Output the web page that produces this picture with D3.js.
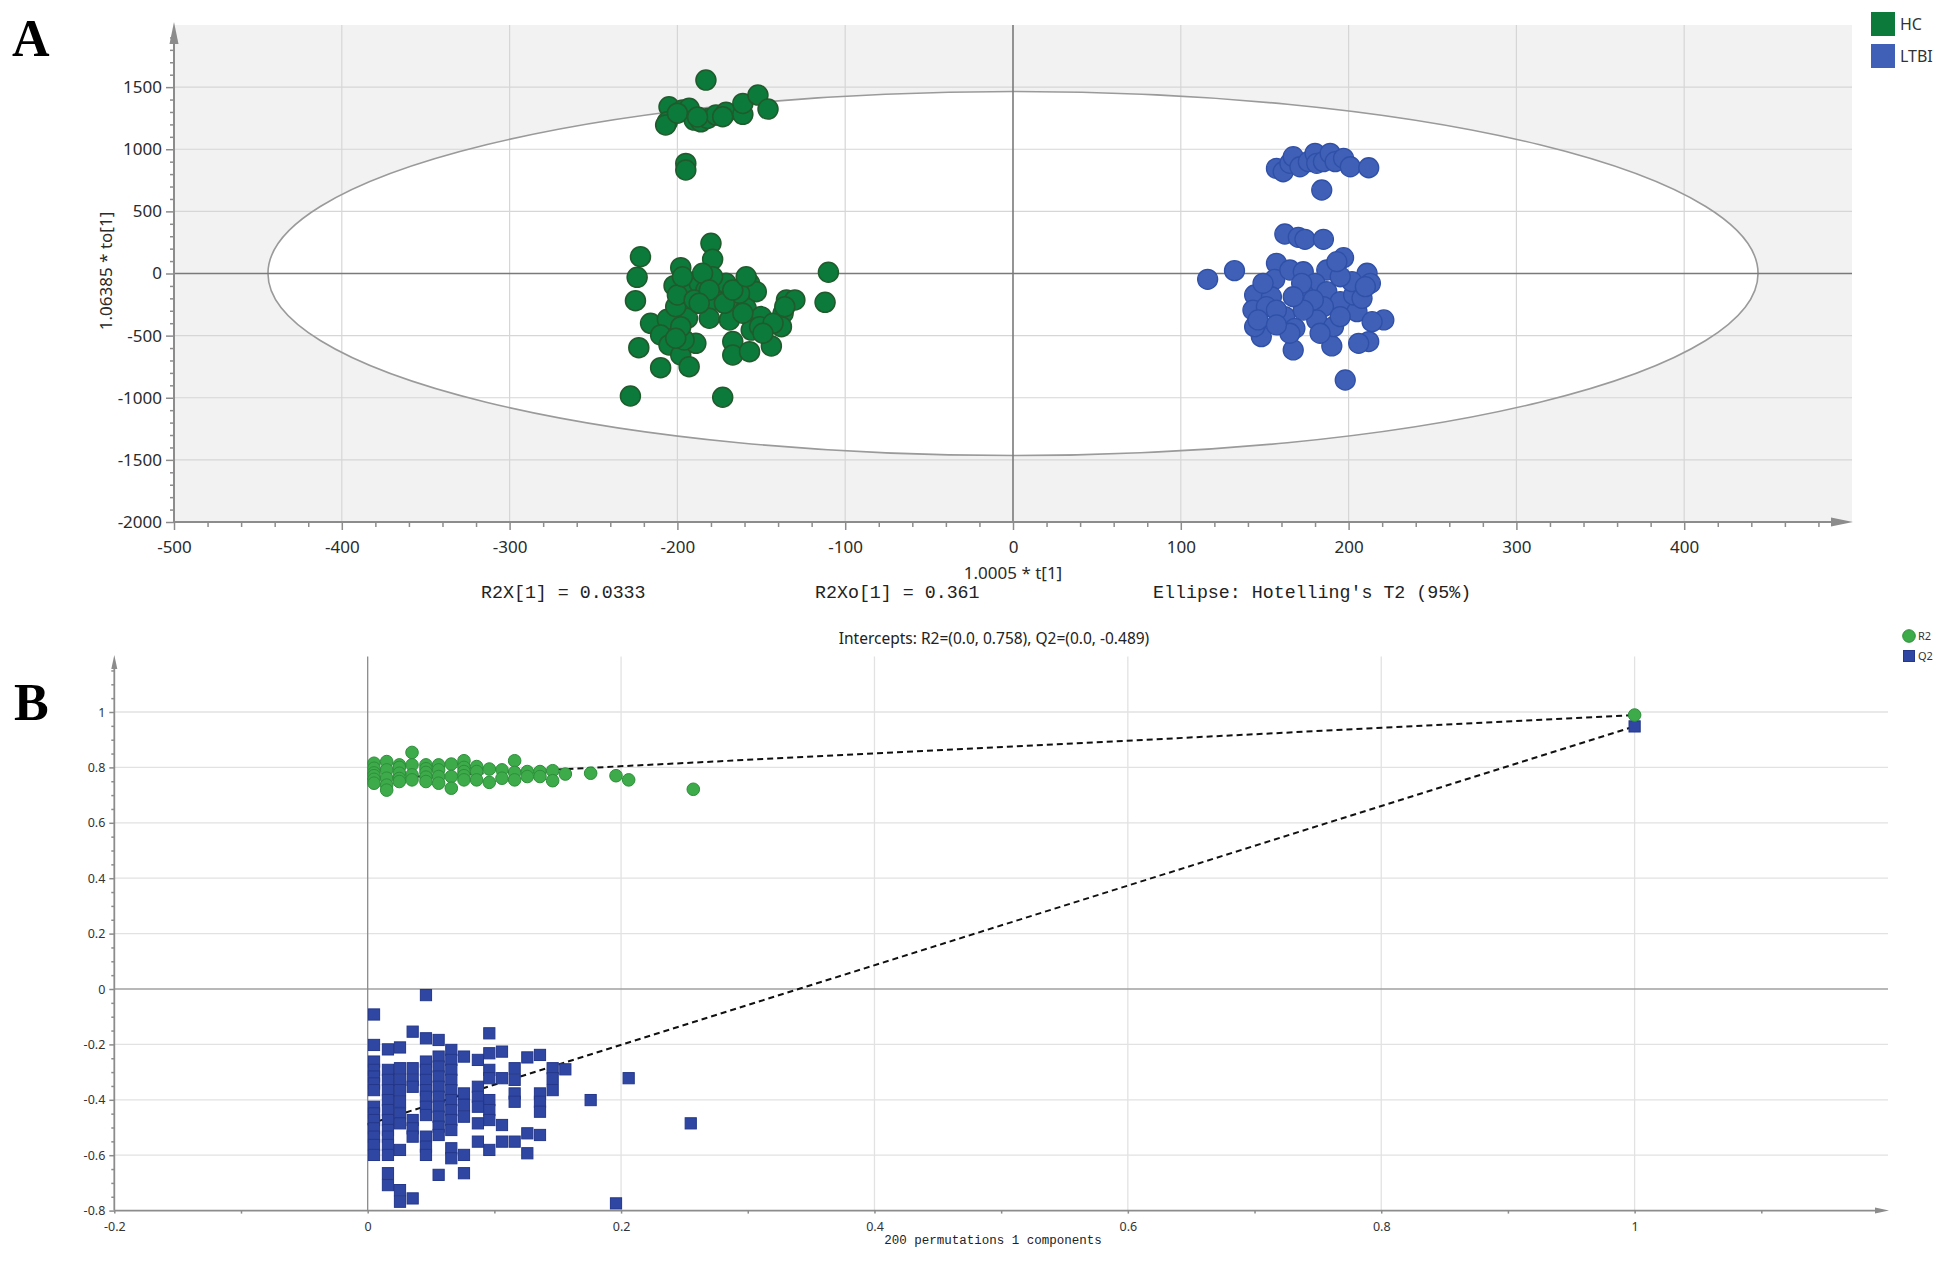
<!DOCTYPE html>
<html><head><meta charset="utf-8">
<script src="https://cdn.jsdelivr.net/npm/d3@7"></script>
<style>body{margin:0;background:#fff} svg{display:block}</style>
</head><body>
<svg id="c" width="1949" height="1262"></svg>
<script>
// ---------------- Panel A data (OPLS-DA scores) ----------------
const groupsA = ["HC", "LTBI"];
const hcX = [-183,-205,-206,-207,-197,-193,-190,-186,-182,-177,-171,-173,-161,-161,-152,-146,-195,-195,-200,-188,
  -222,-224,-225,-223,-228,-173,-180,-179,-110,-112,-198,-202,-195,-187,-183,-178,-171,-157,-153,-195,-194,-181,-169,-163,-159,-135,-130,-137,-138,-150,-155,-216,-206,-210,-205,-198,-210,-193,-189,-196,-167,-167,-157,-144,-156,-201,-200,-190,-179,-185,-197,-163,-172,-181,-167,-159,-161,-151,-143,-187,-198,-201,-149,-136];
const hcY = [1557,1342,1221,1195,1315,1329,1235,1221,1248,1275,1297,1262,1281,1369,1436,1323,886,833,1290,1260,
  135,-31,-219,-597,-986,-996,243,114,10,-232,47,-98,-133,-79,-133,-213,-79,-79,-146,-280,-360,-360,-374,-213,-280,-213,-213,-320,-428,-347,-441,-401,-369,-495,-575,-656,-758,-750,-562,-535,-548,-656,-629,-583,-455,-267,-173,-213,-26,2,-26,-159,-240,-133,-133,-26,-320,-428,-401,-240,-428,-521,-481,-267];
const ltbiX = [157,161,165,167,171,176,180,181,185,189,192,197,201,212,184,
  162,170,174,185,116,132,
  157,197,211,213,221,212,206,198,190,167,148,144,144,143,156,165,173,187,180,173,187,195,185,205,203,202,162,168,165,181,191,183,154,151,157,149,172,179,195,214,146,173,157,195,167,208,193,210];
const ltbiY = [846,819,887,940,859,900,967,887,900,967,900,927,859,851,672,
  318,291,275,275,-47,23,
  82,127,2,-79,-374,-548,-562,-857,-583,-615,-508,-428,-173,-294,-47,28,14,28,-79,-159,-146,-227,-267,-307,-173,-66,-347,-441,-481,-374,-428,-481,-187,-267,-294,-79,-79,-213,-347,-388,-374,-294,-414,-26,-187,-200,95,-106];
const xTicksA = [-500,-400,-300,-200,-100,0,100,200,300,400];
const yTicksA = [-2000,-1500,-1000,-500,0,500,1000,1500];
const ellipseA = {a: 444, b: 1465};

// ---------------- Panel B data (permutation test) ----------------
const r2X = [0.005,0.005,0.005,0.005,0.005,0.005, 0.015,0.015,0.015,0.015,0.015, 0.025,0.025,0.025,0.025,0.025, 0.035,0.035,0.035,0.035, 0.046,0.046,0.046,0.046,0.046, 0.056,0.056,0.056,0.056, 0.066,0.066,0.066, 0.076,0.076,0.076,0.076,0.076, 0.086,0.086,0.086, 0.096,0.096, 0.106,0.106, 0.116,0.116,0.116, 0.126,0.126, 0.136,0.136, 0.146,0.146, 0.156, 0.176, 0.196, 0.206, 0.257, 1];
const r2Y = [0.815,0.797,0.780,0.770,0.757,0.743, 0.821,0.791,0.761,0.736,0.718, 0.809,0.800,0.779,0.760,0.749, 0.854,0.809,0.773,0.755, 0.809,0.795,0.782,0.765,0.749, 0.809,0.791,0.767,0.743, 0.812,0.767,0.725, 0.824,0.800,0.785,0.770,0.755, 0.803,0.785,0.755, 0.794,0.746, 0.791,0.761, 0.824,0.782,0.755, 0.785,0.767, 0.785,0.767, 0.788,0.752, 0.776, 0.779, 0.770, 0.755, 0.721, 0.989];
const q2X = [0.005,0.005,0.005,0.005,0.005,0.005,0.005,0.005,0.005,0.005,0.005,0.005,0.005,0.005,
  0.016,0.016,0.016,0.016,0.016,0.016,0.016,0.016,0.016,0.016,0.016,0.016,0.016,
  0.0255,0.0255,0.0255,0.0255,0.0255,0.0255,0.0255,0.0255,0.0255,0.0255,
  0.0355,0.0355,0.0355,0.0355,0.0355,0.0355,0.0355,0.0355,
  0.046,0.046,0.046,0.046,0.046,0.046,0.046,0.046,0.046,0.046,0.046,0.046,
  0.056,0.056,0.056,0.056,0.056,0.056,0.056,0.056,0.056,0.056,0.056,
  0.066,0.066,0.066,0.066,0.066,0.066,0.066,0.066,0.066,0.066,0.066,
  0.076,0.076,0.076,0.076,0.076,0.076,
  0.087,0.087,0.087,0.087,0.087,0.087,
  0.096,0.096,0.096,0.096,0.096,0.096,0.096,0.096,
  0.106,0.106,0.106,0.106,
  0.116,0.116,0.116,0.116,0.116,
  0.126,0.126,0.126,
  0.136,0.136,0.136,0.136,0.136,
  0.146,0.146,0.146,
  0.156, 0.176, 0.196, 0.206, 0.255, 1];
const q2Y = [-0.092,-0.202,-0.262,-0.292,-0.316,-0.341,-0.365,-0.425,-0.449,-0.473,-0.503,-0.533,-0.563,-0.599,
  -0.218,-0.292,-0.328,-0.365,-0.401,-0.437,-0.473,-0.509,-0.533,-0.563,-0.599,-0.665,-0.708,
  -0.211,-0.286,-0.328,-0.365,-0.407,-0.449,-0.485,-0.581,-0.726,-0.768,
  -0.154,-0.286,-0.328,-0.353,-0.473,-0.503,-0.533,-0.756,
  -0.022,-0.178,-0.262,-0.292,-0.328,-0.365,-0.389,-0.425,-0.455,-0.533,-0.569,-0.599,
  -0.184,-0.244,-0.280,-0.316,-0.353,-0.389,-0.425,-0.461,-0.497,-0.527,-0.671,
  -0.220,-0.256,-0.292,-0.328,-0.365,-0.401,-0.437,-0.473,-0.509,-0.575,-0.611,
  -0.244,-0.377,-0.419,-0.461,-0.599,-0.665,
  -0.256,-0.353,-0.389,-0.425,-0.485,-0.551,
  -0.160,-0.232,-0.292,-0.322,-0.401,-0.437,-0.473,-0.581,
  -0.226,-0.322,-0.491,-0.551,
  -0.286,-0.328,-0.377,-0.407,-0.551,
  -0.247,-0.521,-0.593,
  -0.238,-0.377,-0.407,-0.443,-0.527,
  -0.286,-0.322,-0.365,
  -0.290, -0.401, -0.774, -0.322, -0.485, 0.948];
const r2Line = [[0, 0.758], [1, 0.989]];
const q2Line = [[0, -0.489], [1, 0.948]];
const xTicksB = [-0.2, 0, 0.2, 0.4, 0.6, 0.8, 1];
const yTicksB = [-0.8, -0.6, -0.4, -0.2, 0, 0.2, 0.4, 0.6, 0.8, 1];
const seriesB = ["R2", "Q2"];

// ---------------- drawing ----------------
const svg = d3.select("#c");
const SANS = "'Noto Sans','Open Sans',sans-serif";
const MONO = "'Liberation Mono','DejaVu Sans Mono',monospace";
const AX = "#8c8c8c";

function arrowUp(g, x, yTip, len, w) {
  g.append("path").attr("d", `M${x},${yTip} L${x - w / 2},${yTip + len} L${x + w / 2},${yTip + len} Z`).attr("fill", AX);
}
function arrowRight(g, xTip, y, len, w) {
  g.append("path").attr("d", `M${xTip},${y} L${xTip - len},${y - w / 2} L${xTip - len},${y + w / 2} Z`).attr("fill", AX);
}

// ===== Panel A =====
const xA = d3.scaleLinear().domain([-500, 500]).range([174, 1852]);
const yA = d3.scaleLinear().domain([-2000, 2000]).range([522, 25]);
const gA = svg.append("g");
gA.append("rect").attr("x", xA(-500)).attr("y", yA(2000))
  .attr("width", xA(500) - xA(-500)).attr("height", yA(-2000) - yA(2000)).attr("fill", "#f2f2f2");
const ecx = xA(0), ecy = yA(0), erx = xA(ellipseA.a) - xA(0), ery = yA(0) - yA(ellipseA.b);
gA.append("ellipse").attr("cx", ecx).attr("cy", ecy).attr("rx", erx).attr("ry", ery).attr("fill", "#fff");
// grid
gA.selectAll(".gx").data(xTicksA.filter(d => d !== 0 && d !== -500)).enter().append("line")
  .attr("x1", d => xA(d)).attr("x2", d => xA(d)).attr("y1", yA(2000)).attr("y2", yA(-2000))
  .attr("stroke", "#d6d6d6").attr("stroke-width", 1.2);
gA.selectAll(".gy").data(yTicksA.filter(d => d !== 0 && d !== -2000)).enter().append("line")
  .attr("x1", xA(-500)).attr("x2", xA(500)).attr("y1", d => yA(d)).attr("y2", d => yA(d))
  .attr("stroke", "#d6d6d6").attr("stroke-width", 1.2);
gA.append("ellipse").attr("cx", ecx).attr("cy", ecy).attr("rx", erx).attr("ry", ery)
  .attr("fill", "none").attr("stroke", "#9a9a9a").attr("stroke-width", 1.6);
// zero lines
gA.append("line").attr("x1", xA(-500)).attr("x2", xA(500)).attr("y1", yA(0)).attr("y2", yA(0)).attr("stroke", "#7a7a7a").attr("stroke-width", 1.6);
gA.append("line").attr("x1", xA(0)).attr("x2", xA(0)).attr("y1", yA(2000)).attr("y2", yA(-2000)).attr("stroke", "#7a7a7a").attr("stroke-width", 1.6);
// points
const colA = {HC: {f: "#0b7a3a", s: "#215a2c"}, LTBI: {f: "#3f60b6", s: "#3050a8"}};
gA.selectAll(".hc").data(hcX.map((x, i) => [x, hcY[i]])).enter().append("circle")
  .attr("cx", d => xA(d[0])).attr("cy", d => yA(d[1])).attr("r", 10)
  .attr("fill", colA.HC.f).attr("stroke", colA.HC.s).attr("stroke-width", 1.5);
gA.selectAll(".lt").data(ltbiX.map((x, i) => [x, ltbiY[i]])).enter().append("circle")
  .attr("cx", d => xA(d[0])).attr("cy", d => yA(d[1])).attr("r", 10)
  .attr("fill", colA.LTBI.f).attr("stroke", colA.LTBI.s).attr("stroke-width", 1.3);
// axes
const axA = gA.append("g");
axA.append("line").attr("x1", xA(-500)).attr("x2", xA(-500)).attr("y1", yA(-2000)).attr("y2", 30).attr("stroke", AX).attr("stroke-width", 2);
arrowUp(axA, xA(-500), 22, 22, 9);
axA.append("line").attr("x1", xA(-500)).attr("x2", 1840).attr("y1", yA(-2000)).attr("y2", yA(-2000)).attr("stroke", AX).attr("stroke-width", 2);
arrowRight(axA, 1853, yA(-2000), 22, 9);

function styleAxis(g, size, color) {
  g.select(".domain").remove();
  g.selectAll(".tick line").attr("stroke", AX).attr("stroke-width", 1.5);
  g.selectAll(".tick text").attr("font-family", SANS).attr("font-size", size).attr("fill", color);
}
const yMinorA = d3.range(-2000, 2000, 100).filter(v => v % 500 !== 0);
const xMinorA = d3.range(-500, 500, 20).filter(v => v % 100 !== 0);
const gyA = axA.append("g").attr("transform", `translate(${xA(-500)},0)`)
  .call(d3.axisLeft(yA).tickValues(yTicksA).tickSize(8).tickPadding(4).tickFormat(d => String(d)));
styleAxis(gyA, 17, "#2b2b2b");
const gyAm = axA.append("g").attr("transform", `translate(${xA(-500)},0)`)
  .call(d3.axisLeft(yA).tickValues(yMinorA).tickSize(4).tickFormat(""));
styleAxis(gyAm, 17, "#2b2b2b");
const gxA = axA.append("g").attr("transform", `translate(0,${yA(-2000)})`)
  .call(d3.axisBottom(xA).tickValues(xTicksA).tickSize(8).tickPadding(11).tickFormat(d => String(d)));
styleAxis(gxA, 17, "#2b2b2b");
const gxAm = axA.append("g").attr("transform", `translate(0,${yA(-2000)})`)
  .call(d3.axisBottom(xA).tickValues(xMinorA).tickSize(5).tickFormat(""));
styleAxis(gxAm, 17, "#2b2b2b");
// labels
gA.append("text").attr("transform", `translate(112,271) rotate(-90)`).attr("text-anchor", "middle")
  .attr("font-family", SANS).attr("font-size", 17).attr("fill", "#2b2b2b").text("1.06385 * to[1]");
gA.append("text").attr("x", xA(0)).attr("y", 579).attr("text-anchor", "middle")
  .attr("font-family", SANS).attr("font-size", 17).attr("fill", "#2b2b2b").text("1.0005 * t[1]");
[["R2X[1] = 0.0333", 481], ["R2Xo[1] = 0.361", 815], ["Ellipse: Hotelling's T2 (95%)", 1153]].forEach(([t, x]) => {
  gA.append("text").attr("x", x).attr("y", 598).attr("font-family", MONO).attr("font-size", 18.3)
    .attr("fill", "#222").text(t);
});
// legend A
groupsA.forEach((g, i) => {
  gA.append("rect").attr("x", 1871).attr("y", 12 + i * 32).attr("width", 24).attr("height", 24).attr("fill", colA[g].f);
  gA.append("text").attr("x", 1900).attr("y", 30 + i * 32).attr("font-family", SANS).attr("font-size", 16)
    .attr("fill", "#333").text(g);
});
svg.append("text").attr("x", 12).attr("y", 56).attr("font-family", "'Liberation Serif','DejaVu Serif',serif")
  .attr("font-weight", "bold").attr("font-size", 52).attr("fill", "#000").text("A");

// ===== Panel B =====
const xB = d3.scaleLinear().domain([-0.2, 1.2]).range([114.3, 1888]);
const yB = d3.scaleLinear().domain([-0.8, 1.2]).range([1210.6, 656.6]);
const gB = svg.append("g");
gB.selectAll(".gx").data(xTicksB.filter(d => d > 0)).enter().append("line")
  .attr("x1", d => xB(d)).attr("x2", d => xB(d)).attr("y1", yB(1.2)).attr("y2", yB(-0.8))
  .attr("stroke", "#e2e2e2").attr("stroke-width", 1.3);
gB.selectAll(".gy").data(yTicksB.filter(d => d !== 0 && d > -0.8)).enter().append("line")
  .attr("x1", xB(-0.2)).attr("x2", xB(1.2)).attr("y1", d => yB(d)).attr("y2", d => yB(d))
  .attr("stroke", "#e2e2e2").attr("stroke-width", 1.3);
gB.append("line").attr("x1", xB(-0.2)).attr("x2", xB(1.2)).attr("y1", yB(0)).attr("y2", yB(0)).attr("stroke", "#a0a0a0").attr("stroke-width", 1.6);
gB.append("line").attr("x1", xB(0)).attr("x2", xB(0)).attr("y1", yB(1.2)).attr("y2", yB(-0.8)).attr("stroke", "#8a8a8a").attr("stroke-width", 1.3);
// regression lines
const lineB = d3.line().x(d => xB(d[0])).y(d => yB(d[1]));
[r2Line, q2Line].forEach(L => {
  gB.append("path").attr("d", lineB(L)).attr("fill", "none").attr("stroke", "#111")
    .attr("stroke-width", 2).attr("stroke-dasharray", "6,4");
});
// points
gB.selectAll(".q2").data(q2X.map((x, i) => [x, q2Y[i]])).enter().append("rect")
  .attr("x", d => xB(d[0]) - 5.6).attr("y", d => yB(d[1]) - 5.6).attr("width", 11.2).attr("height", 11.2)
  .attr("fill", "#2f47a2").attr("stroke", "#24378a").attr("stroke-width", 1);
gB.selectAll(".r2").data(r2X.map((x, i) => [x, r2Y[i]])).enter().append("circle")
  .attr("cx", d => xB(d[0])).attr("cy", d => yB(d[1])).attr("r", 6.3)
  .attr("fill", "#3dab4a").attr("stroke", "#2e8e3b").attr("stroke-width", 1);
// axes B
const axB = gB.append("g");
axB.append("line").attr("x1", xB(-0.2)).attr("x2", xB(-0.2)).attr("y1", yB(-0.8)).attr("y2", 664).attr("stroke", AX).attr("stroke-width", 1.8);
arrowUp(axB, xB(-0.2), 655, 14, 6);
axB.append("line").attr("x1", xB(-0.2)).attr("x2", 1878).attr("y1", yB(-0.8)).attr("y2", yB(-0.8)).attr("stroke", AX).attr("stroke-width", 1.8);
arrowRight(axB, 1889, yB(-0.8), 14, 6);
const yMinorB = d3.range(-16, 24).map(k => k * 0.05).filter(v => Math.abs(Math.round(v * 5) - v * 5) > 1e-6);
const xMinorB = [-0.1, 0.1, 0.3, 0.5, 0.7, 0.9, 1.1];
const gyB = axB.append("g").attr("transform", `translate(${xB(-0.2)},0)`)
  .call(d3.axisLeft(yB).tickValues(yTicksB).tickSize(5).tickPadding(4).tickFormat(d => String(d)));
styleAxis(gyB, 12.5, "#333");
const gyBm = axB.append("g").attr("transform", `translate(${xB(-0.2)},0)`)
  .call(d3.axisLeft(yB).tickValues(yMinorB).tickSize(3).tickFormat(""));
styleAxis(gyBm, 12.5, "#333");
const gxB = axB.append("g").attr("transform", `translate(0,${yB(-0.8)})`)
  .call(d3.axisBottom(xB).tickValues(xTicksB).tickSize(3).tickPadding(9).tickFormat(d => String(d)));
styleAxis(gxB, 12.5, "#333");
const gxBm = axB.append("g").attr("transform", `translate(0,${yB(-0.8)})`)
  .call(d3.axisBottom(xB).tickValues(xMinorB).tickSize(3).tickFormat(""));
styleAxis(gxBm, 12.5, "#333");
gB.append("text").attr("x", 994).attr("y", 644).attr("text-anchor", "middle").attr("font-family", SANS)
  .attr("font-size", 15.5).attr("fill", "#222").text("Intercepts: R2=(0.0, 0.758), Q2=(0.0, -0.489)");
gB.append("text").attr("x", 993).attr("y", 1244).attr("text-anchor", "middle").attr("font-family", MONO)
  .attr("font-size", 12.5).attr("fill", "#222").text("200 permutations 1 components");
// legend B
gB.append("circle").attr("cx", 1909).attr("cy", 636).attr("r", 6.3).attr("fill", "#3dab4a").attr("stroke", "#2e8e3b");
gB.append("rect").attr("x", 1903.5).attr("y", 650.5).attr("width", 11).attr("height", 11).attr("fill", "#2f47a2").attr("stroke", "#24378a");
seriesB.forEach((s, i) => {
  gB.append("text").attr("x", 1918).attr("y", 640 + i * 20).attr("font-family", SANS).attr("font-size", 11)
    .attr("fill", "#333").text(s);
});
svg.append("text").attr("x", 14).attr("y", 720).attr("font-family", "'Liberation Serif','DejaVu Serif',serif")
  .attr("font-weight", "bold").attr("font-size", 52).attr("fill", "#000").text("B");
</script>
</body></html>
